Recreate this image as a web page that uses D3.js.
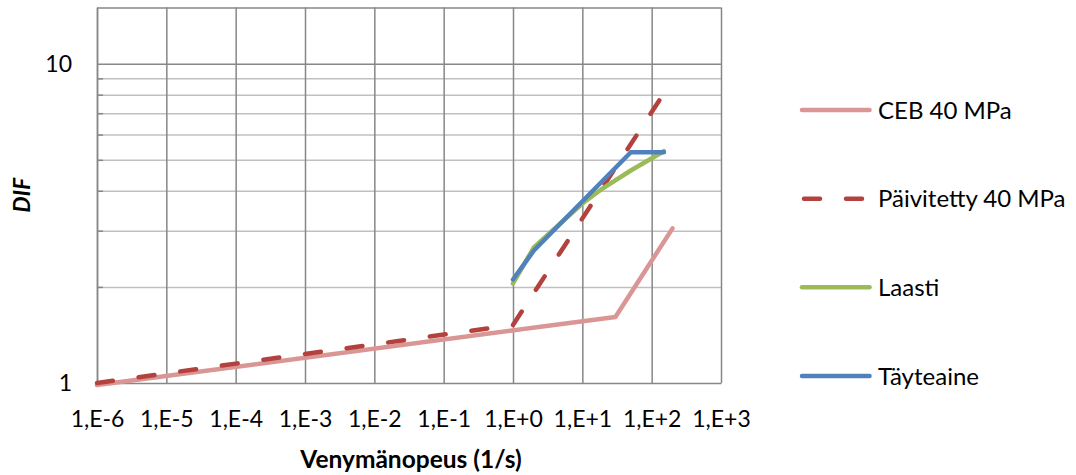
<!DOCTYPE html>
<html>
<head>
<meta charset="utf-8">
<script src="https://cdn.jsdelivr.net/npm/d3@7"></script>
<style>
  html, body { margin: 0; padding: 0; background: #fff; }
  svg { display: block; font-family: Lato, "Open Sans", sans-serif; }
</style>
</head>
<body>
<svg id="chart" width="1076" height="475"></svg>
<script>
// Strain-rate axis (1/s) and its decade labels
const xTicks = [1e-6, 1e-5, 1e-4, 1e-3, 1e-2, 1e-1, 1e0, 1e1, 1e2, 1e3];
const xTickLabels = ["1,E-6", "1,E-5", "1,E-4", "1,E-3", "1,E-2", "1,E-1", "1,E+0", "1,E+1", "1,E+2", "1,E+3"];
const yTicks = [1, 10];
const yTickLabels = ["1", "10"];
const yMinor = [2, 3, 4, 5, 6, 7, 8, 9];
const yTop = 15;

// Series: [strain rate, DIF]
const ceb40 = [[1e-6, 0.985], [30, 1.61], [200, 3.05]];
const paivitetty40 = [[1e-6, 1.0], [1, 1.52], [130, 7.7]];
const laasti = [[1, 2.05], [2, 2.66], [10, 3.65], [20, 4.08], [50, 4.63], [150, 5.32]];
const tayteaine = [[1, 2.11], [2, 2.6], [50, 5.28], [150, 5.28]];

const seriesNames = ["CEB 40 MPa", "Päivitetty 40 MPa", "Laasti", "Täyteaine"];
const seriesData = [ceb40, paivitetty40, laasti, tayteaine];
const seriesColors = ["#D99694", "#B3413E", "#9BBB59", "#4F81BD"];
const seriesDash = [null, "16,26", null, null];

const svg = d3.select("#chart");
const plotLeft = 97, plotRight = 721, plotTop = 7.5, plotBottom = 383;

const x = d3.scaleLog().domain([1e-6, 1e3]).range([plotLeft, plotRight]);
const y = d3.scaleLog().domain([1, yTop]).range([plotBottom, plotTop]);

// minor horizontal gridlines
svg.append("g")
  .attr("transform", `translate(${plotLeft},0)`)
  .call(d3.axisLeft(y).tickValues(yMinor).tickFormat("").tickSize(-(plotRight - plotLeft)))
  .call(g => g.select(".domain").remove())
  .call(g => g.selectAll("line").attr("stroke", "#C0C0C0").attr("stroke-width", 1.5));

// minor tick stubs on the value axis
svg.append("g")
  .attr("transform", `translate(${plotLeft},0)`)
  .call(d3.axisRight(y).tickValues(yMinor).tickFormat("").tickSize(6))
  .call(g => g.select(".domain").remove())
  .call(g => g.selectAll("line").attr("stroke", "#878787").attr("stroke-width", 1.5));

// major horizontal gridlines incl. top frame
svg.append("g")
  .attr("transform", `translate(${plotLeft},0)`)
  .call(d3.axisLeft(y).tickValues([10, yTop]).tickFormat("").tickSize(-(plotRight - plotLeft)))
  .call(g => g.select(".domain").remove())
  .call(g => g.selectAll("line").attr("stroke", "#878787").attr("stroke-width", 1.5));

// vertical decade gridlines
svg.append("g")
  .attr("transform", `translate(0,${plotBottom})`)
  .call(d3.axisBottom(x).tickValues(xTicks).tickFormat("").tickSize(-(plotBottom - plotTop)))
  .call(g => g.select(".domain").remove())
  .call(g => g.selectAll("line").attr("stroke", "#878787").attr("stroke-width", 1.5));

// x axis with labels
svg.append("g")
  .attr("transform", `translate(0,${plotBottom})`)
  .call(d3.axisBottom(x).tickValues(xTicks).tickFormat((d, i) => xTickLabels[i]).tickSize(0).tickPadding(28))
  .call(g => g.select(".domain").attr("stroke", "#878787").attr("stroke-width", 1.5))
  .call(g => g.selectAll("text").attr("font-size", 23).attr("fill", "#000").attr("font-family", "Lato, sans-serif"));

// y axis with labels
svg.append("g")
  .attr("transform", `translate(${plotLeft},0)`)
  .call(d3.axisLeft(y).tickValues(yTicks).tickFormat((d, i) => yTickLabels[i]).tickSize(0).tickPadding(25))
  .call(g => g.select(".domain").attr("stroke", "#878787").attr("stroke-width", 1.5))
  .call(g => g.selectAll("text").attr("font-size", 23).attr("fill", "#000").attr("font-family", "Lato, sans-serif"));

// series lines
const line = d3.line().x(d => x(d[0])).y(d => y(d[1]));
seriesData.forEach((data, i) => {
  svg.append("path")
    .datum(data)
    .attr("fill", "none")
    .attr("stroke", seriesColors[i])
    .attr("stroke-width", 4.5)
    .attr("stroke-linecap", "round")
    .attr("stroke-linejoin", "round")
    .attr("stroke-dasharray", seriesDash[i])
    .attr("d", line);
});

// axis titles
svg.append("text")
  .attr("x", (plotLeft + plotRight) / 2 + 2).attr("y", 468)
  .attr("text-anchor", "middle")
  .attr("font-size", 24.5).attr("font-weight", "bold")
  .text("Venymänopeus (1/s)");

svg.append("text")
  .attr("transform", `translate(30,${(plotTop + plotBottom) / 2}) rotate(-90)`)
  .attr("text-anchor", "middle")
  .attr("font-size", 23).attr("font-weight", "bold").attr("font-style", "italic")
  .text("DIF");

// legend
const legendY = d3.scalePoint().domain(seriesNames).range([110, 376]);
const legend = svg.append("g");
seriesNames.forEach((name, i) => {
  const ly = legendY(name);
  legend.append("line")
    .attr("x1", seriesDash[i] ? 804 : 802).attr("x2", seriesDash[i] ? 862 : 869.5)
    .attr("y1", ly).attr("y2", ly)
    .attr("stroke", seriesColors[i]).attr("stroke-width", 4.5)
    .attr("stroke-linecap", "round")
    .attr("stroke-dasharray", seriesDash[i]);
  legend.append("text")
    .attr("x", 878).attr("y", ly).attr("dy", "0.36em")
    .attr("font-size", 24).attr("fill", "#000")
    .text(name);
});
</script>
</body>
</html>
